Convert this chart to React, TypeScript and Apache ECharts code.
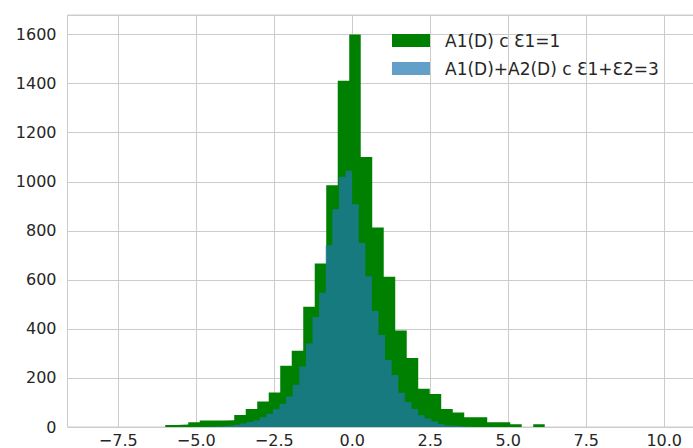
import React, { useEffect, useRef } from "react";
import * as echarts from "echarts";

// Histogram 1: A1(D) c Ɛ1=1 (bin edges: start + i*width)
const greenStart = -5.994;
const greenWidth = 0.3686;
const greenCounts = [
  8, 10, 19, 27, 27, 28, 49, 73, 104, 141, 250, 311, 490, 667, 986, 1412,
  1600, 1101, 813, 613, 393, 281, 156, 135, 73, 59, 40, 40, 19, 19, 11, 0, 11,
];

// Histogram 2: A1(D)+A2(D) c Ɛ1+Ɛ2=3
const blueStart = -4.657;
const blueWidth = 0.2115;
const blueCounts = [
  1, 2, 4, 6, 9, 14, 20, 27, 40, 54, 72, 95, 124, 172, 247, 340, 449, 547, 741,
  888, 1020, 1045, 908, 750, 615, 473, 375, 273, 212, 140, 102, 73, 48, 35, 22,
  12, 6, 4, 2, 1,
];

const seriesNames = ["A1(D) с Ɛ1=1", "A1(D)+A2(D) с Ɛ1+Ɛ2=3"];

const xTicks = [-7.5, -5, -2.5, 0, 2.5, 5, 7.5, 10];
const xMin = -9.127;
const xMax = 11.147;
const yMin = 0;
const yMax = 1680;
const yInterval = 200;

const FONT = "DejaVu Sans";
const TEXT = "#262626";
const GRID = "#cccccc";

// step outline points: [edge_i, count_i] ... [edge_n, 0]
function toSteps(start: number, width: number, counts: number[]) {
  const pts = counts.map((c, i) => [start + i * width, c]);
  pts.push([start + counts.length * width, 0]);
  return pts;
}

function histSeries(name: string, data: number[][], color: string) {
  return {
    type: "line",
    name,
    data,
    step: "end",
    showSymbol: false,
    symbol: "none",
    silent: true,
    itemStyle: { color },
    lineStyle: { width: 0, opacity: 0 },
    areaStyle: { color, opacity: 1, origin: 0 },
  };
}

export default function App() {
  const ref = useRef<HTMLDivElement>(null);
  useEffect(() => {
    if (!ref.current) return;
    const chart = echarts.init(ref.current, null, { renderer: "svg" });
    chart.setOption({
      animation: false,
      backgroundColor: "#ffffff",
      grid: {
        left: 67.5,
        right: 0,
        top: 15,
        bottom: 21,
        show: true,
        borderColor: GRID,
        borderWidth: 1,
        backgroundColor: "#ffffff",
      },
      legend: {
        orient: "vertical",
        left: 392,
        top: 32,
        padding: 0,
        itemWidth: 38,
        itemHeight: 13,
        itemGap: 11,
        icon: "rect",
        selectedMode: false,
        textStyle: {
          fontFamily: FONT,
          fontSize: 17,
          lineHeight: 17,
          color: TEXT,
          padding: [0, 0, 0, 10],
        },
        data: seriesNames,
      },
      xAxis: {
        type: "value",
        min: xMin,
        max: xMax,
        axisLine: { show: false },
        axisTick: { show: false, customValues: xTicks },
        splitLine: { show: true, lineStyle: { color: GRID, width: 1 } },
        axisLabel: {
          customValues: xTicks,
          fontFamily: FONT,
          fontSize: 16,
          color: TEXT,
          margin: 5,
          formatter: (v: number) => v.toFixed(1).replace("-", "\u2212"),
        },
      },
      yAxis: {
        type: "value",
        min: yMin,
        max: yMax,
        interval: yInterval,
        axisLine: { show: false },
        axisTick: { show: false },
        splitLine: { show: true, lineStyle: { color: GRID, width: 1 } },
        axisLabel: {
          showMaxLabel: false,
          fontFamily: FONT,
          fontSize: 16,
          color: TEXT,
          margin: 11,
          formatter: (v: number) => String(v),
        },
      },
      series: [
        histSeries(seriesNames[0], toSteps(greenStart, greenWidth, greenCounts), "#008000"),
        histSeries(seriesNames[1], toSteps(blueStart, blueWidth, blueCounts), "rgba(31,119,180,0.7)"),
      ],
    });
    return () => chart.dispose();
  }, []);
  return (
    <div
      ref={ref}
      style={{ position: "fixed", left: 0, top: 0, width: 700, height: 448 }}
    />
  );
}
